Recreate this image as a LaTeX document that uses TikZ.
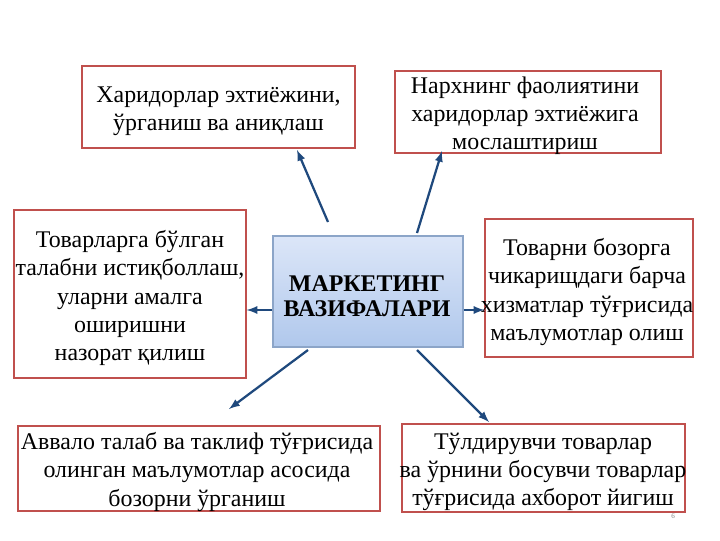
\documentclass[tikz,border=0pt]{standalone}
\usepackage{fontspec}
\setmainfont{Liberation Serif}
\usepackage{tikz}
\usetikzlibrary{calc}

\definecolor{boxred}{RGB}{192,80,77}
\definecolor{arrblue}{RGB}{31,73,125}
\definecolor{coretop}{RGB}{220,230,248}
\definecolor{corebot}{RGB}{176,200,236}
\definecolor{coreline}{RGB}{140,165,200}

\tikzset{
	taskbox/.style={draw=boxred,line width=0.9pt,fill=white,inner sep=0pt},
	tasktext/.style={align=center,inner sep=0pt,font=\fontsize{17}{20}\selectfont},
	corebox/.style={draw=coreline,line width=0.9pt,top color=coretop,bottom color=corebot,inner sep=0pt},
	coretext/.style={align=center,inner sep=0pt,font=\fontsize{17}{17.5}\selectfont\bfseries},
	arr/.style={draw=arrblue,line width=1.6pt,-latex}
}

\begin{document}
\begin{tikzpicture}[x=0.025cm,y=-0.025cm]
		\useasboundingbox (0,0) rectangle (720,540);

		% boxes
		\node[taskbox,minimum width=273*0.025cm,minimum height=82*0.025cm] (need) at (218.5,107) {};
		\node[tasktext] (needtext) at (218.5,111) {Харидорлар эхтиёжини,\\ўрганиш ва аниқлаш};
		\node[taskbox,minimum width=266*0.025cm,minimum height=82*0.025cm] (price) at (528,112) {};
		\node[tasktext] (pricetext) at (525,116) {Нархнинг фаолиятини\\харидорлар эхтиёжига\\мослаштириш};
		\node[taskbox,minimum width=232*0.025cm,minimum height=168*0.025cm] (demand) at (130,294) {};
		\node[tasktext] (demandtext) at (130,298) {Товарларга бўлган\\талабни истиқболлаш,\\уларни амалга\\оширишни\\назорат қилиш};
		\node[taskbox,minimum width=208*0.025cm,minimum height=138*0.025cm] (info) at (589,288) {};
		\node[tasktext] (infotext) at (587,292) {Товарни бозорга\\чикарищдаги барча\\хизматлар тўғрисида\\маълумотлар олиш};
		\node[taskbox,minimum width=362*0.025cm,minimum height=85*0.025cm] (study) at (199,468.5) {};
		\node[tasktext] (studytext) at (197,472) {Аввало талаб ва таклиф тўғрисида\\олинган маълумотлар асосида\\бозорни ўрганиш};
		\node[taskbox,minimum width=283*0.025cm,minimum height=88*0.025cm] (supply) at (543.5,468) {};
		\node[tasktext] (supplytext) at (543,472) {Тўлдирувчи товарлар\\ва ўрнини босувчи товарлар\\тўғрисида ахборот йигиш};

		% centre
		\node[corebox,minimum width=190*0.025cm,minimum height=111*0.025cm] (core) at (368,291.5) {};
		\node[coretext] (coretext) at (367,296) {МАРКЕТИНГ\\ВАЗИФАЛАРИ};

		% arrows
		\coordinate (c1) at (328,222); \coordinate (t1) at (297,150);
		\coordinate (c2) at (417,233); \coordinate (t2) at (442,151);
		\coordinate (c5) at (308,350); \coordinate (t5) at (229,409);
		\coordinate (c6) at (417,350); \coordinate (t6) at (489,422);
		\draw[arr] (c1) -- (t1);
		\draw[arr] (c2) -- (t2);
		\draw[arr] (core.west|-0,310) -- (demand.east|-0,310);
		\draw[arr] (core.east|-0,310) -- (info.west|-0,310);
		\draw[arr] (c5) -- (t5);
		\draw[arr] (c6) -- (t6);

		\node[text=gray,font=\tiny] (page) at (673,516) {6};
	\end{tikzpicture}
\end{document}
